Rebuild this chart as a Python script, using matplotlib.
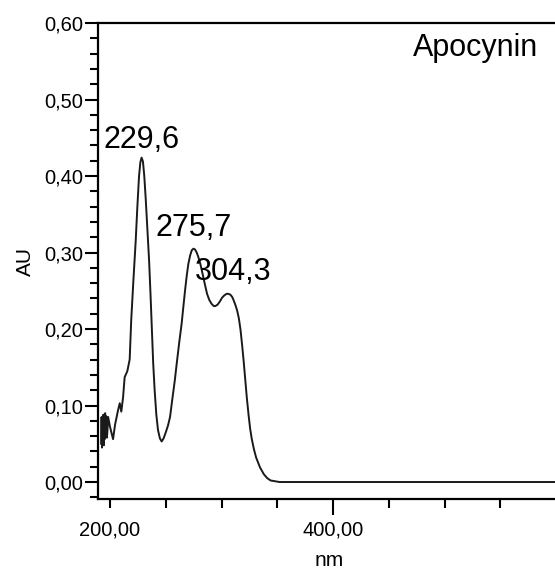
import matplotlib
matplotlib.use('Agg')
import matplotlib.pyplot as plt
from matplotlib.ticker import MultipleLocator, FuncFormatter, FixedLocator

plt.rcParams['font.family'] = ['Liberation Sans', 'DejaVu Sans']

# UV spectrum of apocynin (nm, AU)
wavelength = [192.0, 192.4, 192.8, 193.2, 193.6, 194.0, 194.4, 194.8, 195.2, 195.6,
              196.0, 196.6, 197.2, 197.8, 198.3, 200.0, 202.7, 204.5, 207.2, 208.7,
              210.1, 211.7, 213.1, 214.0, 215.5, 217.6, 219.0, 221.0, 223.0, 224.5,
              226.0, 227.2, 228.3, 229.5, 230.7, 232.0, 233.5, 235.0, 236.3, 237.5,
              238.7, 240.0, 241.5, 243.0, 244.7, 246.3, 248.0, 250.0, 252.0, 253.8,
              256.0, 258.0, 259.8, 262.0, 264.2, 265.8, 267.3, 268.8, 270.2, 271.8,
              273.3, 274.8, 276.2, 277.7, 279.2, 281.0, 283.0, 285.1, 287.0, 289.0,
              291.0, 293.0, 294.5, 296.5, 298.5, 300.5, 302.5, 304.5, 306.0, 307.8,
              309.5, 311.0, 312.5, 314.0, 315.5, 317.0, 318.5, 320.0, 321.3, 322.6,
              324.2, 325.6, 327.0, 329.0, 331.0, 334.5, 338.0, 341.0, 344.0, 348.0,
              352.0, 600.0]
absorbance = [0.050, 0.085, 0.045, 0.082, 0.055, 0.088, 0.048, 0.078, 0.056, 0.090,
              0.062, 0.086, 0.058, 0.070, 0.085, 0.072, 0.056, 0.075, 0.094, 0.103,
              0.092, 0.111, 0.137, 0.140, 0.145, 0.160, 0.212, 0.265, 0.315, 0.360,
              0.400, 0.418, 0.424, 0.419, 0.400, 0.370, 0.330, 0.290, 0.245, 0.200,
              0.155, 0.120, 0.088, 0.068, 0.057, 0.053, 0.057, 0.065, 0.074, 0.085,
              0.110, 0.132, 0.155, 0.182, 0.207, 0.230, 0.251, 0.270, 0.285, 0.296,
              0.303, 0.305, 0.304, 0.300, 0.294, 0.285, 0.272, 0.258, 0.246, 0.238,
              0.233, 0.230, 0.230, 0.232, 0.236, 0.241, 0.244, 0.246, 0.246, 0.245,
              0.242, 0.237, 0.231, 0.224, 0.214, 0.199, 0.178, 0.155, 0.133, 0.111,
              0.088, 0.070, 0.057, 0.043, 0.032, 0.019, 0.010, 0.005, 0.002, 0.001,
              0.000, 0.000]

peak_labels = ['229,6', '275,7', '304,3']
peak_label_pos = [(193.7, 0.437), (240.4, 0.321), (276.2, 0.264)]
compound = 'Apocynin'

W, H = 555, 571
fig = plt.figure(figsize=(W / 100, H / 100), dpi=100)
ax = fig.add_axes([98 / W, 1 - 499 / H, (W - 98) / W, (499 - 23) / H])

ax.plot(wavelength, absorbance, color='#1a1a1a', linewidth=1.4)

ax.set_xlim(189.2, 599.0)
ax.set_ylim(-0.0222, 0.60)

ax.spines['right'].set_visible(False)
for s in ['left', 'bottom', 'top']:
    ax.spines[s].set_linewidth(1.6)

comma = FuncFormatter(lambda v, p: f'{v:.2f}'.replace('.', ','))
ax.yaxis.set_major_locator(MultipleLocator(0.1))
ax.yaxis.set_minor_locator(MultipleLocator(0.02))
ax.xaxis.set_major_locator(FixedLocator([200, 400]))
ax.xaxis.set_minor_locator(MultipleLocator(50))
ax.xaxis.set_major_formatter(comma)
ax.yaxis.set_major_formatter(comma)

ax.tick_params(axis='y', which='major', length=9.4, width=1.5, pad=1, labelsize=14.5)
ax.tick_params(axis='y', which='minor', length=5.8, width=1.5)
ax.tick_params(axis='x', which='major', length=11.5, width=1.5, pad=4, labelsize=14.5)
ax.tick_params(axis='x', which='minor', length=6.5, width=1.5)
# the 200 tick is drawn short in the original
ax.xaxis.get_major_ticks()[0].tick1line.set_markersize(6.5)

for lab, (x, y) in zip(peak_labels, peak_label_pos):
    ax.text(x, y, lab, fontsize=22, ha='left', va='baseline')

ax.text(471.7, 0.557, compound, fontsize=22, ha='left', va='baseline')

fig.text(25 / W, 1 - 262 / H, 'AU', rotation=90, ha='center', va='center', fontsize=15)
fig.text(329 / W, 1 - 561 / H, 'nm', ha='center', va='center', fontsize=15)

fig.savefig('out.png', dpi=100)
